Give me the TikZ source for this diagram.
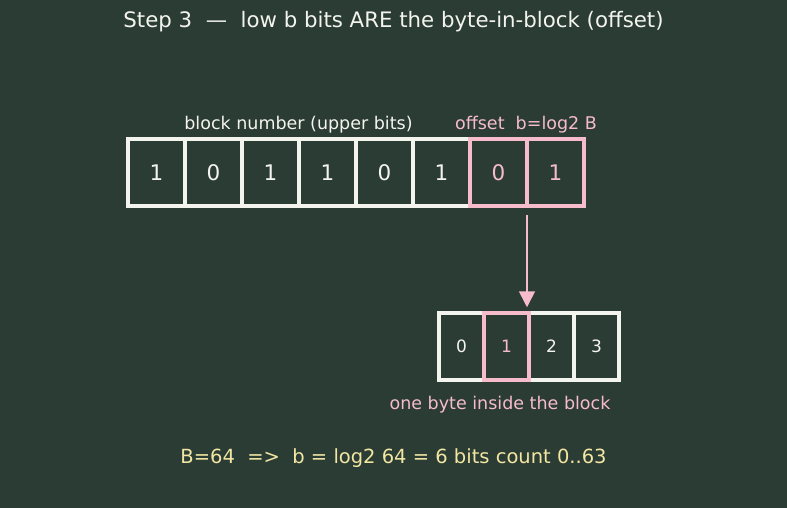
\documentclass[tikz,border=0pt]{standalone}
\usepackage{fontspec}
\setmainfont{DejaVu Sans}
\usetikzlibrary{arrows.meta}
\definecolor{bg}{HTML}{2B3C35}
\definecolor{wline}{HTML}{F4F4EE}
\definecolor{pinkc}{HTML}{F6BCCB}
\definecolor{yel}{HTML}{F2E6A2}
\begin{document}
\begin{tikzpicture}[x=1pt,y=-1pt,
  bitbox/.style={draw=wline,line width=3.5pt,fill=bg,minimum width=57pt,minimum height=67pt,inner sep=0pt,text=wline,font=\fontsize{21.5}{24}\selectfont},
  offbox/.style={bitbox,draw=pinkc,text=pinkc},
  bytebox/.style={draw=wline,line width=3.5pt,fill=bg,minimum width=45pt,minimum height=67pt,inner sep=0pt,text=wline,font=\fontsize{17}{20}\selectfont},
  bytesel/.style={bytebox,draw=pinkc,text=pinkc},
  lbl/.style={font=\fontsize{17.5}{20}\selectfont,inner sep=0pt}]
\fill[bg] (0,0) rectangle (787,508);
\useasboundingbox (0,0) rectangle (787,508);
\node[font=\fontsize{21.3}{24}\selectfont,text=wline] (title) at (393.5,22) {Step 3\ \ —\ \ low b bits ARE the byte-in-block (offset)};
\foreach \v [count=\i] in {1,0,1,1,0,1} {
  \node[bitbox] (b\i) at ({128+57*(\i-1)+28.5},172.5) {\v};
}
\node[offbox] (b7) at ({128+57*6+28.5},172.5) {0};
\node[offbox] (b8) at ({128+57*7+28.5},172.5) {1};
\node[lbl,text=wline] (blk) at (298.5,125) {block number (upper bits)};
\node[lbl,text=pinkc] (off) at (526,125) {offset\ \ b=log2 B};
\node[bytebox] (y0) at (461.5,346.5) {0};
\node[bytebox] (y2) at (551.5,346.5) {2};
\node[bytebox] (y3) at (596.5,346.5) {3};
\node[bytesel] (y1) at (506.5,346.5) {1};
\draw[pinkc,line width=1.6pt,-{Triangle[length=16pt,width=16pt]}] ([xshift=1.75pt,yshift=-7pt]b8.south west) -- ([xshift=1.75pt,yshift=4pt]b8.south west |- y1.north);
\node[lbl,text=pinkc] (one) at (500,405) {one byte inside the block};
\node[font=\fontsize{19.5}{22}\selectfont,text=yel] (form) at (393.5,458) {B=64\ \ =>\ \ b = log2 64 = 6 bits count 0..63};
\end{tikzpicture}
\end{document}
